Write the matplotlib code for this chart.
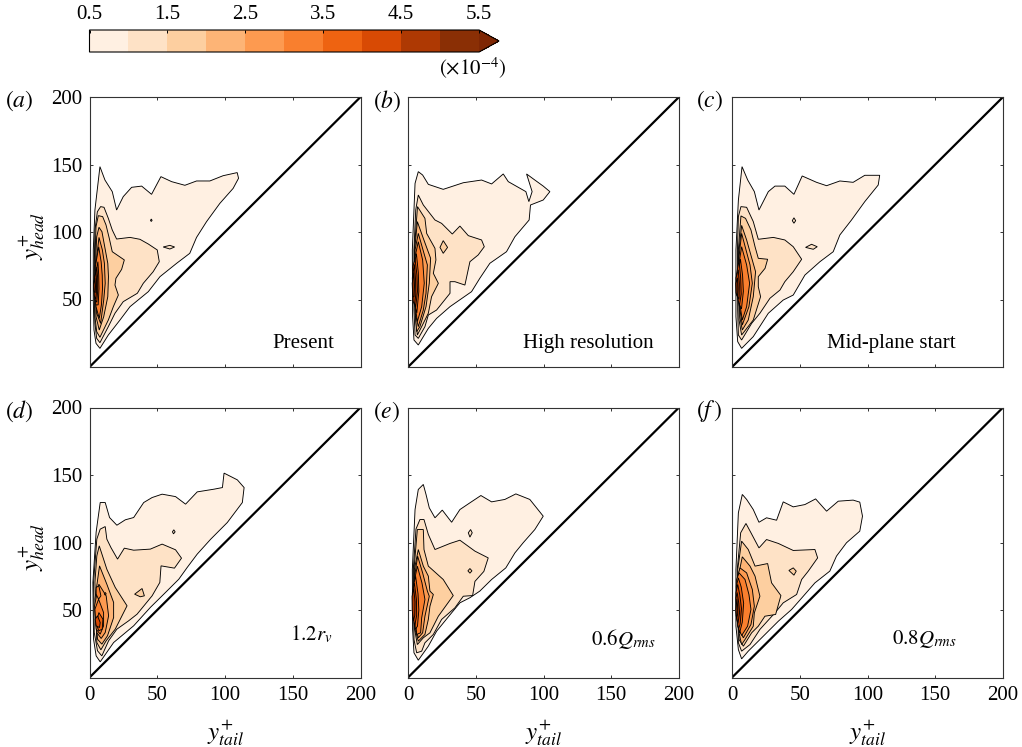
#!/usr/bin/env python3

import matplotlib
matplotlib.use('Agg')
import matplotlib.pyplot as plt
from matplotlib.colors import BoundaryNorm, ListedColormap
from matplotlib.colorbar import ColorbarBase

plt.rcParams['font.family'] = ['Liberation Serif', 'DejaVu Serif']
plt.rcParams['mathtext.fontset'] = 'stix'

# contour levels and the colours of the colour bar
levels = [0.5, 1.0, 1.5, 2.0, 2.5, 3.0, 3.5, 4.0, 4.5, 5.0, 5.5]
level_colors = ['#fff0e2', '#fee2c6', '#fdcfa0', '#fdb476', '#fd9a50',
                '#f97f2e', '#ee6311', '#d84a04', '#ae3903', '#8a2f05']
over_color = '#7f2704'
cbar_ticks = [0.5, 1.5, 2.5, 3.5, 4.5, 5.5]
axis_ticks = [50, 100, 150, 200]
x_ticks = [0, 50, 100, 150, 200]
tags = ['$(a)$', '$(b)$', '$(c)$', '$(d)$', '$(e)$', '$(f\\,)$']
names = ['Present', 'High resolution', 'Mid-plane start',
         '$1.2r_v$', '$0.6Q_{rms}$', '$0.8Q_{rms}$']

# outlines: (y+tail, y+head), one list per level
a_05 = [(7.7, 148.4), (11.4, 138.5), (16.8, 129.9), (20, 116.3), (24.9, 126.2), (31.1, 133.1), (38.5, 134),
        (45.8, 127.9), (52.7, 141), (60.6, 137.3), (70.4, 134.6), (79, 137.8), (88.8, 137.8), (98.6, 141.7),
        (109, 144), (110, 139.8), (106, 132.3), (96.2, 121.2), (86.4, 107.7), (79, 96), (74, 84.2), (64.3, 76.8),
        (52, 66.9), (43.4, 55.8), (29.9, 44.7), (22.5, 34.8), (13.9, 23.7), (7.7, 13.8), (4.8, 17.5), (3.3, 27.4),
        (2.8, 49.6), (2.8, 86.7), (4, 116.3)]
a_10 = [(8.2, 118.8), (10.7, 118.3), (13.9, 110.1), (16.8, 101.5), (20, 94.8), (29.9, 96), (37.2, 94.6),
        (43.4, 91.1), (50, 86.7), (51.5, 78), (47, 70.6), (39.7, 62), (35.3, 54.6), (24.9, 48.4), (18.8, 39.8),
        (13.9, 29.9), (7.7, 18), (5.3, 21.2), (4, 32.3), (3.3, 62), (4, 101.5), (5.8, 115)]
a_15 = [(6.5, 112.1), (9.7, 111.4), (12.2, 105.2), (14.6, 95.3), (16.8, 85.4), (25.7, 79.3), (23.7, 72.3),
        (19.5, 65.7), (18.8, 60.7), (21.3, 53.3), (17.6, 44.7), (13.9, 34.8), (7.7, 22), (5.3, 26.2), (4, 37.3),
        (3.8, 74.3), (4.8, 104)]
a_20 = [(7, 103.5), (9.2, 100.2), (11, 90.4), (13.5, 76.8), (14, 66.9), (13.5, 52.1), (10.5, 37.3),
        (7.2, 27.4), (4.8, 37.3), (4.3, 74.3), (5.3, 96.5)]
a_25 = [(7, 96), (9.5, 86.7), (11, 76.8), (11.6, 62), (10.5, 49.6), (8.2, 32.3), (5.3, 39.8), (4.5, 74.3)]
a_30 = [(6.8, 89), (8.6, 78), (9.4, 68), (9.6, 58), (8.8, 46), (7.2, 36), (4.8, 44.7), (4.3, 74.3)]
a_35 = [(6.2, 78), (6.8, 68), (7, 58), (6.4, 46), (4.6, 46), (3.9, 66)]
a_40 = [(5.4, 74), (6, 66), (6, 56), (5.4, 48), (4, 50), (3.5, 64)]
a_45 = [(4.7, 72), (5.2, 64), (5.2, 56), (4.6, 50), (3.5, 53), (3.2, 62)]
a_50 = [(4, 66), (4.4, 60), (4.2, 55), (3.4, 56), (3.1, 61)]
a_dot = [(45.6, 109.6), (46.2, 108.6), (45.6, 107.8), (45, 108.6)]
a_lens = [(54.4, 88.9), (59.3, 90.1), (62.8, 88.9), (59.3, 87.4)]

b_05 = [(7.6, 144.7), (10.8, 142.2), (15, 135.3), (26, 131.6), (40.8, 136.5), (54.3, 138.5), (61.7, 135.6),
        (70.3, 143), (74, 137.3), (87, 129.9), (89.2, 122.5), (91.6, 129.9), (87.5, 143), (93.6, 138.5),
        (99.8, 134), (104.7, 129.9), (99.8, 123.7), (90.4, 120), (89.4, 108.9), (78.9, 96.5), (72.7, 85.4),
        (60.4, 76.8), (53, 65.7), (46.9, 55.8), (31, 44.7), (21.1, 36), (15, 28.6), (7.6, 16.3), (4.4, 20),
        (3.4, 37.3), (3.2, 86.7), (5.2, 136)]
b_10 = [(7.6, 127.4), (11.3, 120), (19.9, 108.9), (24.8, 106.4), (32.7, 98.5), (38.3, 104.4), (44.5, 97.3),
        (54.3, 94.1), (56.3, 89.1), (51.8, 83), (45.7, 78), (42, 60.7), (34.6, 63.2), (31, 63.2), (31, 54.6),
        (21.1, 42.2), (15, 38.5), (12.5, 29.9), (7.6, 21.2), (5.2, 23.7), (4.4, 42.2), (4.4, 86.7), (5.7, 116.3)]
b_15 = [(7, 118.8), (12.5, 110.1), (13.8, 98.9), (19.9, 87.9), (20.6, 79.3), (18.7, 69.4), (22.4, 62),
        (17.4, 52.1), (15, 39.8), (10.1, 29.9), (6.9, 23.7), (5.4, 37.3), (4.7, 86.7)]
b_20 = [(6.9, 107.7), (11.3, 95.3), (16.7, 80.5), (15.7, 62), (13.3, 44.7), (8.8, 29.9), (6.4, 26.2),
        (5.2, 42.2), (4.9, 86.7)]
b_25 = [(7.6, 99), (11.8, 84.2), (14.3, 75.6), (13.3, 54.6), (11.3, 42.2), (7.6, 29.9), (5.4, 39.8), (5.2, 86.7)]
b_30 = [(7.6, 92.8), (10.8, 79.3), (12, 62), (10.1, 44.7), (6.9, 33.6), (5.4, 44.7), (5.2, 81.7)]
b_35 = [(6.2, 84), (7.6, 70), (8, 56), (6.5, 40), (5, 46), (4.2, 74)]
b_40 = [(5.2, 80), (6.6, 68), (7, 56), (5.6, 44), (3.9, 52), (3.4, 74)]
b_45 = [(4.7, 76), (5.6, 64), (5.8, 54), (4.8, 46), (3.7, 49), (3.2, 66)]
b_50 = [(4.2, 70), (4.8, 60), (4.4, 52), (3.5, 52), (3.1, 62)]
b_diamond = [(26, 93.6), (29.2, 88.6), (26, 84.2), (23.6, 88.6)]

c_05 = [(7.4, 148.4), (11.6, 138.5), (16.5, 129.9), (19.9, 116.3), (26.8, 129.9), (31.7, 134), (39, 134),
        (45.7, 127.9), (51.8, 141.5), (62.4, 136.8), (69.8, 134.3), (79.6, 137.8), (89.4, 136.8), (98, 142),
        (109, 142), (107.9, 134.8), (98, 122.5), (88.2, 108.9), (79.6, 97.8), (74.7, 85.4), (64.9, 78),
        (53.8, 68.1), (45.2, 53.3), (37.8, 49.6), (26.8, 39.8), (15.7, 22.5), (7.1, 13.8), (4.2, 18.8),
        (2.9, 37.3), (2.9, 86.7), (4.7, 123.5)]
c_10 = [(6.6, 118.8), (10.8, 118.3), (15.7, 107.7), (19.4, 94.6), (30.5, 96), (39, 94.1), (45.2, 89.1),
        (51.4, 79.8), (45.2, 70.6), (39, 63.2), (35.4, 57), (28, 50.9), (20.6, 39.8), (14.5, 32.3), (7.1, 20),
        (4.7, 23.7), (4.2, 42.2), (4, 86.7), (4.7, 111.4)]
c_15 = [(6.6, 111.9), (10, 110.1), (14, 101.5), (17, 89.1), (19.4, 80.5), (26.3, 79.8), (24.4, 73.1),
        (19.4, 66.9), (19.4, 59.5), (21.1, 52.1), (15.7, 34.8), (7.1, 23.7), (5.2, 34.8), (4.7, 86.7)]
c_20 = [(7.1, 104.9), (10.8, 94.1), (17.4, 70.6), (15.7, 52.1), (12, 34.8), (7.6, 27.4), (5.7, 37.3), (5.2, 86.7)]
c_25 = [(7.1, 99), (13.3, 75.6), (15, 62), (12.5, 44.7), (7.6, 31.1), (5.9, 42.2), (5.2, 81.7)]
c_30 = [(7.1, 89.1), (10.8, 75.6), (13, 62), (10.8, 44.7), (7.6, 34.8), (5.7, 47.2), (5.2, 76.8)]
c_35 = [(6.2, 80), (7.8, 68), (8.4, 56), (7, 43), (5.2, 47), (3.9, 66)]
c_40 = [(5.2, 79), (6.4, 66), (6.8, 54), (5.4, 45), (3.7, 54), (3.4, 69)]
c_45 = [(4.6, 72), (5.4, 62), (5.2, 50), (3.2, 54), (2.9, 66)]
c_50 = [(4, 66), (4.4, 58), (4, 52), (3, 55), (2.8, 62)]
c_dot = [(45.7, 110.5), (47, 108.4), (45.7, 106.5), (44.5, 108.4)]
c_lens = [(58.7, 90.9), (62.9, 89.1), (60, 87.2), (54.3, 88.6)]

d_05 = [(7.9, 129.6), (11.6, 129.6), (14.8, 118.5), (20.2, 112.8), (26.4, 116.8), (32.6, 118.5), (40, 129.6),
        (46.2, 133.3), (53.6, 135.8), (63.5, 134), (70.9, 128.4), (79.5, 137.5), (91.9, 139.5), (98.1, 140.7),
        (99.3, 151.4), (109.1, 146.4), (114.1, 140.7), (112.8, 129.6), (101.7, 114.8), (89.4, 102.4), (79.5, 91.4),
        (72.1, 81.5), (65.9, 72.8), (54.8, 61.7), (44.9, 51.9), (32.6, 38.3), (17.8, 25.9), (7.9, 11.6), (4.9, 16),
        (3, 28.4), (2.5, 70.4), (4.9, 107.7)]
d_10 = [(7.9, 109.9), (11.6, 111.8), (12.8, 102.5), (15.8, 96.3), (20.7, 87.7), (25.7, 95.8), (32.6, 94.3),
        (44.9, 95.1), (53.6, 98.8), (63.5, 94.6), (67.9, 88.4), (62.7, 81), (52.8, 82.7), (51.9, 70.4), (46.2, 60.5),
        (35.1, 46.9), (28.9, 42), (20.2, 35.8), (14.1, 27.2), (9.1, 16), (5.9, 19.8), (3.5, 33.3), (3, 70.4),
        (5.4, 102.5)]
d_15 = [(7.2, 97.5), (12.8, 80.2), (19, 66.7), (27.7, 53.1), (19, 35.8), (12.3, 27.2), (8.4, 20.5), (5.4, 25.9),
        (4, 70.4), (5.4, 90.1)]
d_20 = [(7.4, 82.7), (12.8, 69.1), (17.8, 55.6), (17.8, 44.4), (13.3, 30.9), (9.1, 24.7), (5.9, 28.4), (4, 58)]
d_25 = [(6.9, 69.1), (12.3, 60.5), (14.1, 45.7), (11.6, 33.3), (8.6, 28.9), (5.4, 33.3), (3.7, 53.1)]
d_30 = [(6.7, 58), (10.4, 48.1), (10.4, 38.3), (7.9, 32.1), (4.9, 35.8), (4, 50.6)]
d_35 = [(6.9, 48.1), (9.9, 43.2), (9.4, 35.8), (6.9, 34.6), (4.9, 39.5)]
d_40 = [(5.9, 45.7), (7.9, 40.7), (7.4, 37), (4.9, 38.3), (4.2, 43.2)]
d_blob = [(6.9, 67.9), (8.4, 60.5), (6.7, 58), (4.9, 61.7), (4.9, 66.7)]
d_dot = [(11.6, 63), (12.3, 62), (11.6, 61), (10.9, 62)]
d_oval = [(62.2, 109.4), (63.2, 107.9), (62, 106.4), (61.2, 107.9)]
d_patch = [(33.3, 61.7), (38.8, 65.9), (40.5, 60.5), (37.5, 59.8)]

e_05 = [(11.3, 143), (13.3, 135.6), (15.7, 125.7), (19.9, 118.3), (25.3, 124), (32.2, 115), (38.3, 124.4),
        (45.7, 129.4), (53.8, 134.8), (61.7, 130.1), (71.5, 131.9), (79.6, 136), (89.9, 131.9), (99.8, 119.5),
        (93.6, 109.6), (85, 99.8), (78.9, 92.3), (72.2, 81.2), (61.7, 72.6), (53, 64), (45.7, 59.1), (38.3, 55.3),
        (32.2, 47.9), (21.1, 34.3), (15, 23.2), (7.6, 12.8), (4.4, 18.3), (3.4, 35.6), (3.2, 80), (5.2, 124.4),
        (7.6, 139.3)]
e_10 = [(8.8, 117), (11.8, 117), (15, 106), (19.9, 94.8), (31, 99.3), (38.3, 101.7), (49.4, 93.6), (59.2, 88.6),
        (56, 78.6), (49.4, 71.2), (47.7, 60.7), (40.8, 60.2), (34.6, 51.6), (24.8, 43), (18.7, 31.9), (12.5, 25.7),
        (10.1, 19.5), (6.4, 18.3), (4.4, 28.1), (3.9, 80), (5.9, 110)]
e_15 = [(6.9, 109.6), (11.3, 109.6), (11.8, 94.8), (15, 82.5), (26, 72.6), (33.4, 60.7), (22.4, 45.4), (16.2, 33.1),
        (11.3, 29.4), (6.9, 24.4), (4.9, 35.6), (4.4, 80)]
e_20 = [(7.6, 94.8), (11.3, 82.5), (15, 75.1), (16.2, 64), (18.7, 61.5), (16.2, 52.8), (15, 43), (12.5, 31.9),
        (7.6, 26.9), (5.2, 35.6), (4.7, 80)]
e_25 = [(7.1, 89.9), (10.8, 77.5), (14.3, 64), (15.7, 60.2), (12.5, 45.4), (10.8, 33.1), (7.6, 29.4), (5.4, 38),
        (4.9, 75)]
e_30 = [(6.9, 82.5), (10.3, 70.1), (12.5, 57.8), (10.1, 44.2), (9.3, 33.1), (6.4, 31.9), (5.2, 45.4), (4.9, 72.6)]
e_35 = [(5.6, 75), (7.4, 62), (8, 50), (7, 38), (5.4, 35.6), (4.4, 50), (3.9, 67.7)]
e_40 = [(4.7, 70), (6.2, 58), (6.4, 46), (4.9, 38), (3.4, 48), (3.2, 62.7)]
e_45 = [(4.2, 66), (5.2, 56), (5, 46), (4, 42), (3.1, 50), (3, 60)]
e_oval = [(46.2, 109.6), (47.4, 107.2), (45.7, 104), (44.5, 107.2)]
e_spot = [(45.7, 80.7), (47.2, 79), (45.7, 77.3), (44.2, 79)]

f_05 = [(7.6, 135.6), (10.8, 131.9), (15.7, 124.4), (19.9, 115), (25.5, 118.3), (32.9, 116.5), (37.8, 130.1),
        (45.2, 126.4), (53.8, 128.1), (61.7, 132.3), (69.8, 123.2), (78.4, 130.6), (89.4, 131.4), (94.3, 129.9),
        (96.3, 119.5), (94.3, 108.4), (84.5, 99.8), (77.1, 89.9), (72.2, 78.8), (61.2, 70.1), (52.6, 60.2),
        (44, 50.4), (34.2, 41.7), (19.4, 26.9), (12, 19.5), (7.1, 13.8), (4.7, 20.7), (2.9, 38), (2.9, 80),
        (4.7, 122)]
f_10 = [(10.3, 114.1), (14, 107.2), (19.9, 96), (25.5, 102.2), (34.2, 99.3), (45.2, 94.1), (61.2, 94.8),
        (63.2, 88.6), (56.3, 78.8), (51.4, 72.6), (47.7, 61.5), (37.8, 55.3), (31.7, 47.9), (20.6, 35.6),
        (13.3, 24.4), (7.1, 19.5), (4.7, 25.7), (3.9, 80), (6.4, 107.2)]
f_15 = [(7.1, 101), (12, 94.8), (17, 82.5), (26.3, 84.4), (29.2, 70.1), (36.1, 60.7), (32.2, 46.7), (24.3, 45.4),
        (19.4, 38), (14.5, 33.1), (8.4, 23.2), (5.2, 28.1), (4.2, 80)]
f_20 = [(7.6, 89.4), (13.3, 82.5), (17, 75.1), (20.6, 60.2), (16.5, 47.9), (15.7, 38), (9.6, 28.1), (7.1, 24.4),
        (5.2, 33.1), (4.7, 75.1)]
f_25 = [(5.9, 81.2), (10.8, 77.5), (15, 65.2), (16.5, 52.8), (14, 39.3), (8.4, 29.4), (5.2, 35.6), (4.2, 75.1)]
f_30 = [(5.2, 77.5), (9.6, 72.6), (12.5, 61.5), (14, 50.4), (11.5, 38), (7.1, 31.1), (4.2, 38), (3.4, 72.6)]
f_35 = [(4.7, 73.8), (6.8, 67), (8.6, 55), (7.6, 41), (5.6, 33), (3.7, 43), (3.2, 67.7)]
f_40 = [(4.2, 69), (5.8, 61), (7, 51), (6, 39.5), (4.8, 36), (3.2, 45.4), (2.9, 62.7)]
f_45 = [(3.8, 63), (5, 55), (5.6, 48), (4.4, 40), (3.2, 45.4), (2.9, 59)]
f_50 = [(3.6, 58), (4.2, 52), (4.2, 47), (3.4, 44), (2.8, 50)]
f_spot = [(45.2, 81.2), (47.4, 78.8), (45.7, 75.8), (42, 79.3)]

panel_levels = [
    [a_05, a_10, a_15, a_20, a_25, a_30, a_35, a_40, a_45, a_50],
    [b_05, b_10, b_15, b_20, b_25, b_30, b_35, b_40, b_45, b_50],
    [c_05, c_10, c_15, c_20, c_25, c_30, c_35, c_40, c_45, c_50],
    [d_05, d_10, d_15, d_20, d_25, d_30, d_35, d_40],
    [e_05, e_10, e_15, e_20, e_25, e_30, e_35, e_40, e_45],
    [f_05, f_10, f_15, f_20, f_25, f_30, f_35, f_40, f_45, f_50],
]
# small closed contours: (level index, outline)
panel_islands = [
    [(1, a_dot), (1, a_lens)],
    [(2, b_diamond)],
    [(1, c_dot), (1, c_lens)],
    [(1, d_oval), (2, d_patch), (5, d_blob), (5, d_dot)],
    [(1, e_oval), (2, e_spot)],
    [(2, f_spot)],
]

W, H = 1022, 747
LEFTS = [89.5, 408, 732]
TOPS = [97, 407.5]
AX_W, AX_H = 271, 270
TAG_X = [5, 373, 696]
NAME_XY = [(303, 344), (588, 344), (891, 344), (311, 634), (623, 639), (924, 639)]
SPINE = '#333333'


def pixel_box(left, top, width, height):
    return [left / W, 1 - (top + height) / H, width / W, height / H]


def draw_outline(ax, outline, color):
    xs = [p[0] for p in outline]
    ys = [p[1] for p in outline]
    ax.fill(xs, ys, facecolor=color, edgecolor='black', linewidth=0.65, joinstyle='miter')


def draw_panel(fig, i):
    row, col = divmod(i, 3)
    ax = fig.add_axes(pixel_box(LEFTS[col], TOPS[row], AX_W, AX_H))

    for j, outline in enumerate(panel_levels[i]):
        draw_outline(ax, outline, level_colors[j])
    for j, outline in panel_islands[i]:
        draw_outline(ax, outline, level_colors[j])

    ax.plot([0, 200], [0, 200], color='black', linewidth=1.6)
    ax.set_xlim(0, 200)
    ax.set_ylim(0, 200)
    ax.set_xticks(x_ticks)
    ax.set_yticks(axis_ticks)
    ax.tick_params(direction='in', top=True, right=True, length=2.5, width=0.7,
                   labelsize=15, pad=6, color=SPINE)
    ax.tick_params(axis='y', pad=5)
    for spine in ax.spines.values():
        spine.set_linewidth(0.8)
        spine.set_color(SPINE)

    if row == 0:
        ax.set_xticklabels([])
    else:
        fig.text((LEFTS[col] + 136) / W, 1 - 733 / H, '$y^{+}_{tail}$', fontsize=18,
                 ha='center', va='center')
    if col == 0:
        fig.text(32 / W, 1 - (TOPS[row] + 139) / H, '$y^{+}_{head}$', fontsize=18,
                 rotation=90, ha='center', va='center')
    else:
        ax.set_yticklabels([])

    fig.text(TAG_X[col] / W, 1 - (TOPS[row] + 4) / H, tags[i], fontsize=17, ha='left', va='center')
    fig.text(NAME_XY[i][0] / W, 1 - NAME_XY[i][1] / H, names[i], fontsize=15, ha='center', va='center')


def draw_colorbar(fig):
    cax = fig.add_axes(pixel_box(89.5, 30, 409.5, 22))
    cmap = ListedColormap(level_colors)
    cmap.set_over(over_color)
    norm = BoundaryNorm(levels, cmap.N, extend='neither')
    cbar = ColorbarBase(cax, cmap=cmap, norm=norm, orientation='horizontal', extend='max',
                        extendfrac=0.051, ticks=cbar_ticks, spacing='uniform')
    cbar.ax.xaxis.set_ticks_position('top')
    cbar.ax.tick_params(direction='in', length=2.5, width=0.7, labelsize=15, pad=4)
    cbar.ax.set_xticklabels(['%.1f' % t for t in cbar_ticks])
    cbar.ax.minorticks_off()
    cbar.outline.set_linewidth(0.8)
    fig.text(473 / W, 1 - 68 / H, r'$(\times 10^{-4})$', fontsize=15, ha='center', va='center')


def main():
    fig = plt.figure(figsize=(W / 100, H / 100), dpi=100)
    draw_colorbar(fig)
    for i in range(6):
        draw_panel(fig, i)
    fig.savefig('out.png', dpi=100)


if __name__ == '__main__':
    main()
